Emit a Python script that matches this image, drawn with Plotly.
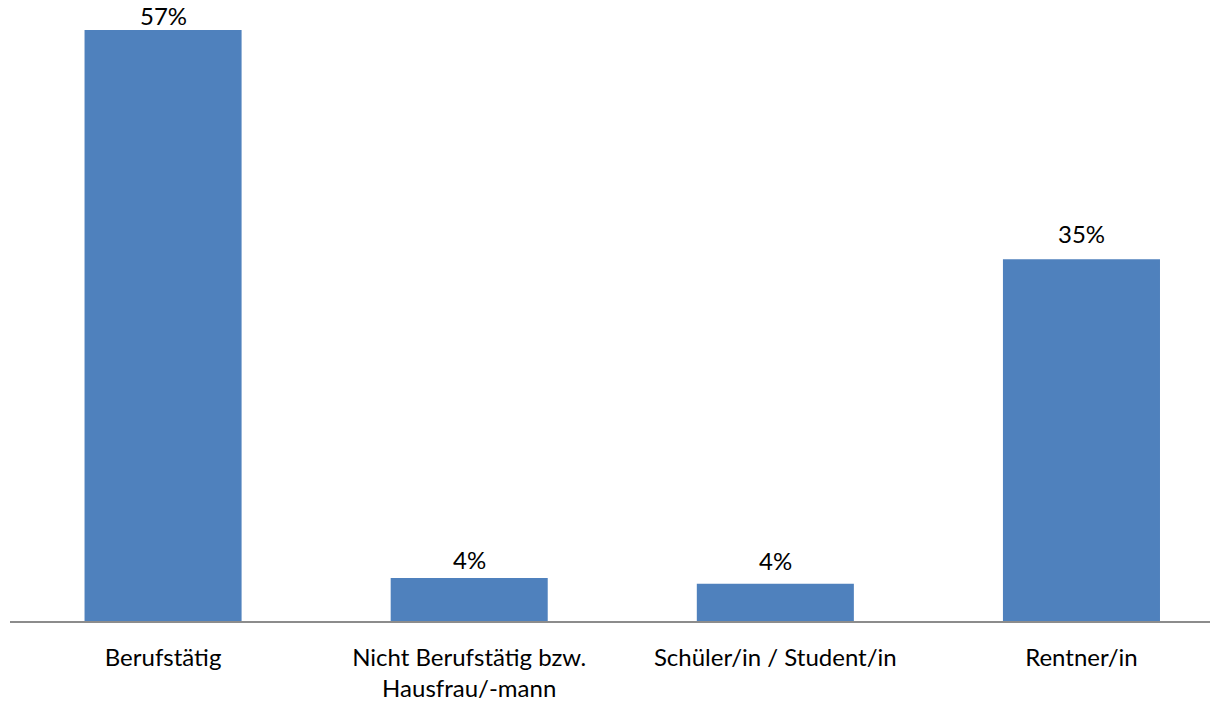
import plotly.graph_objects as go

categories = ["Berufstätig", "Nicht Berufstätig bzw.<br>Hausfrau/-mann",
              "Schüler/in / Student/in", "Rentner/in"]
values = [57.0, 4.15, 3.6, 34.9]
labels = ["57%", "4%", "4%", "35%"]

FONT = "Lato"
# per-label vertical nudge (px) of the data labels, matching the reference
label_shift = [-2, 2, 7, 9]

fig = go.Figure(go.Bar(
    x=categories, y=values,
    marker=dict(color="#4F81BD", line=dict(width=0)),
    hoverinfo="skip",
))

for cat, val, lab, sh in zip(categories, values, labels, label_shift):
    fig.add_annotation(
        x=cat, y=val, text=lab, showarrow=False,
        xanchor="center", yanchor="bottom", yshift=sh,
        font=dict(family=FONT, size=24, color="#000000"),
    )

fig.update_layout(
    width=1210, height=693,
    margin=dict(l=2, r=0, t=0, b=80),
    paper_bgcolor="white", plot_bgcolor="white",
    bargap=0.487,
    showlegend=False,
    font=dict(family=FONT, size=24, color="#000000"),
)
fig.update_xaxes(
    type="category", range=[-0.5, 3.446],
    showline=True, linecolor="#8C8C8C", linewidth=2,
    showgrid=False, zeroline=False,
    ticks="outside", ticklen=14, tickcolor="rgba(0,0,0,0)",
    tickfont=dict(family=FONT, size=24, color="#000000"),
)
fig.update_yaxes(
    range=[0, 59.12], visible=False, showgrid=False, zeroline=False,
)

fig.write_html("out.html")
